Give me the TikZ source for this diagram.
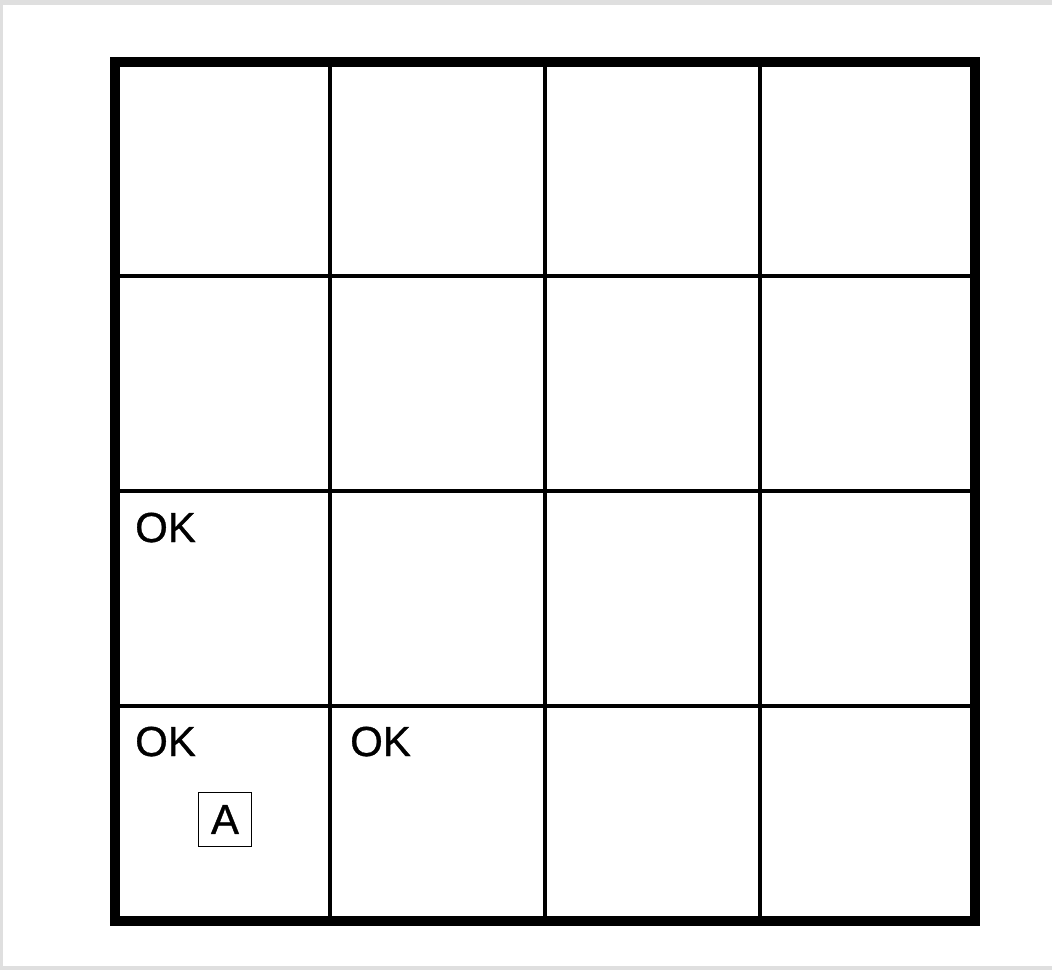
\documentclass[tikz,border=0pt]{standalone}
\usepackage{fontspec}
\setmainfont{Liberation Sans}
\newfontfamily\lblfont[FakeBold=0.8]{Liberation Sans}
\begin{document}
\begin{tikzpicture}[x=1pt,y=-1pt,
  thinline/.style={line width=3.2pt,black},
  thickline/.style={line width=10pt,black},
  lbl/.style={anchor=base west,inner sep=0pt,font=\lblfont\fontsize{42}{42}\selectfont},
  agent/.style={draw,line width=1.8pt,minimum width=53pt,minimum height=54pt,inner sep=0pt,font=\lblfont\fontsize{42}{42}\selectfont}]
\useasboundingbox (0,0) rectangle (1052,970);
\fill[gray!25] (0,0) rectangle (1052,970);
\fill[white] (3,5) rectangle (1052,966);
% inner grid lines
\foreach \x in {330,545,760} \draw[thinline] (\x,62) -- (\x,920.5);
\foreach \y in {276,491,706} \draw[thinline] (115,\y) -- (975,\y);
% outer frame
\draw[thickline] (115,62) rectangle (975,920.5);
% labels
\node[lbl] (ok1) at (135,542) {OK};
\node[lbl] (ok2) at (135,756) {OK};
\node[lbl] (ok3) at (350,756) {OK};
\node[agent] (a) at (225,819.5) {A};
\end{tikzpicture}
\end{document}
